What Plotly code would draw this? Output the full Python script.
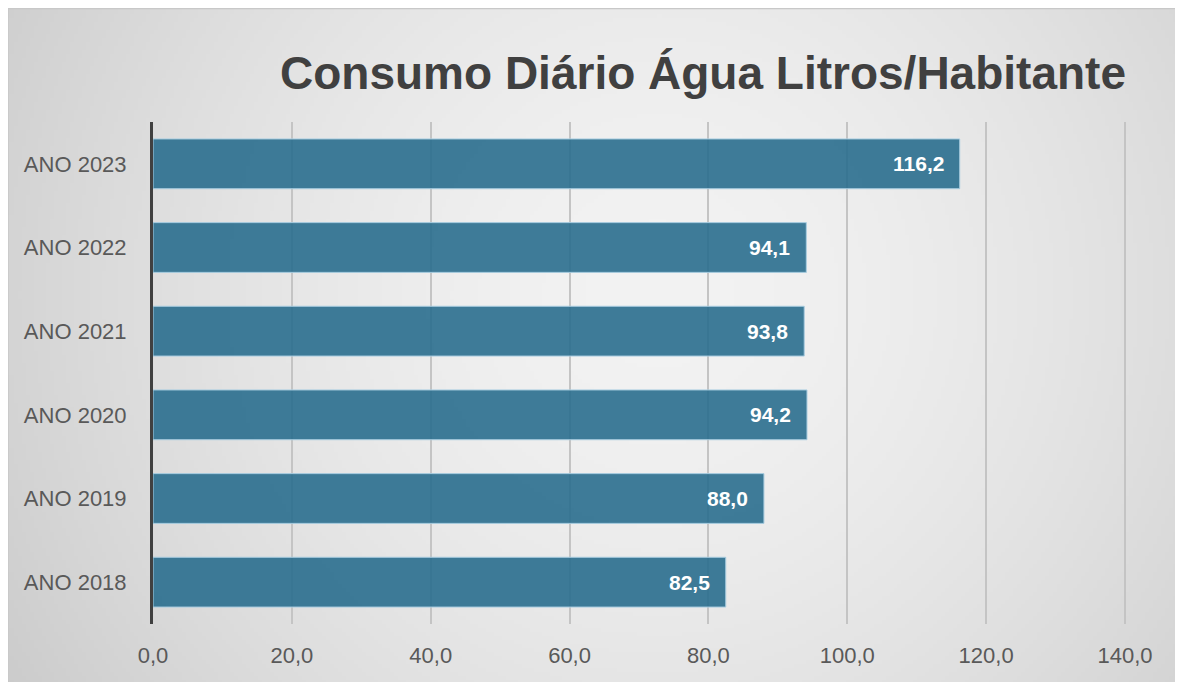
import zlib, struct, base64, math
import plotly.graph_objects as go

# ---- data ----
categories = ["ANO 2018", "ANO 2019", "ANO 2020", "ANO 2021", "ANO 2022", "ANO 2023"]
values = [82.5, 88.0, 94.2, 93.8, 94.1, 116.2]
x_ticks = [0, 20, 40, 60, 80, 100, 120, 140]
title_text = "Consumo Diário Água Litros/Habitante"

# ---- geometry ----
W, H = 1183, 682
L, R, T, B = 145, 65, 114, 66

pw, ph = W - L - R, H - T - B


def px_to_paper_x(px):
    return (px - L) / pw


def px_to_paper_y(py):
    return (H - B - py) / ph


# ---- radial gradient background as PNG ----
def make_png(w, h, fn):
    rows = []
    for y in range(h):
        row = bytearray(b"\x00")
        for x in range(w):
            row.extend(fn(x, y))
        rows.append(bytes(row))
    raw = b"".join(rows)

    def chunk(t, d):
        c = struct.pack(">I", len(d)) + t + d
        return c + struct.pack(">I", zlib.crc32(t + d) & 0xFFFFFFFF)

    png = (b"\x89PNG\r\n\x1a\n"
           + chunk(b"IHDR", struct.pack(">IIBBBBB", w, h, 8, 2, 0, 0, 0))
           + chunk(b"IDAT", zlib.compress(raw, 9))
           + chunk(b"IEND", b""))
    return "data:image/png;base64," + base64.b64encode(png).decode()


gw, gh = 296, 170


def grad(x, y):
    fx = (x + 0.5) / gw
    fy = (y + 0.5) / gh
    dx = (fx - 0.55) * W
    dy = (fy - 0.42) * H
    d = math.sqrt(dx * dx + dy * dy) / 680.0
    v = 243 - 33 * (d ** 1.6)
    v = int(max(200, min(245, v)))
    return (v, v, v)


bg_src = make_png(gw, gh, grad)

fig = go.Figure()
fig.add_trace(go.Bar(
    x=values, y=categories, orientation="h",
    marker=dict(color="rgba(42,110,142,0.9)", line=dict(color="#a9cde0", width=1)),
    hoverinfo="x+y",
))

for c, v in zip(categories, values):
    fig.add_annotation(
        x=v, y=c, xref="x", yref="y", text=f"{v:.1f}".replace(".", ","),
        showarrow=False, xanchor="right", xshift=-14,
        font=dict(family="Liberation Sans, Arial, sans-serif", size=21, color="white", weight="bold"),
    )

fig.add_layout_image(dict(
    source=bg_src, xref="paper", yref="paper",
    x=px_to_paper_x(0), y=px_to_paper_y(0),
    sizex=px_to_paper_x(W) - px_to_paper_x(0),
    sizey=px_to_paper_y(0) - px_to_paper_y(H),
    xanchor="left", yanchor="top", sizing="stretch", layer="below",
))

fig.add_shape(type="rect", xref="paper", yref="paper",
              x0=px_to_paper_x(0), x1=px_to_paper_x(W + 3),
              y0=px_to_paper_y(H + 3), y1=px_to_paper_y(0.5),
              line=dict(color="#c8c8c8", width=1.5), fillcolor="rgba(0,0,0,0)", layer="below")

fig.update_layout(
    width=W, height=H,
    margin=dict(l=L, r=R, t=T, b=B, pad=0),
    paper_bgcolor="#e6e6e6", plot_bgcolor="rgba(0,0,0,0)",
    separators=",.",
    bargap=0.405,
    showlegend=False,
    font=dict(family="Liberation Sans, Arial, sans-serif", color="#595959", size=22),
    title=dict(
        text=title_text, xref="container", yref="container",
        x=695 / W, xanchor="center", y=1 - 65 / H, yanchor="middle",
        font=dict(family="Liberation Sans, Arial, sans-serif", size=46, color="#404040", weight="bold"),
    ),
    xaxis=dict(
        range=[0, 140.15], tickvals=x_ticks, tickformat=".1f",
        showgrid=True, gridcolor="#c4c4c4", gridwidth=1.5,
        zeroline=False, showline=False, ticks="",
        ticklabelstandoff=16,
        tickfont=dict(size=22, color="#595959"),
    ),
    yaxis=dict(
        type="category", categoryorder="array", categoryarray=categories,
        showgrid=False, zeroline=False,
        showline=True, linecolor="#404040", linewidth=3,
        ticks="", ticklabelstandoff=19,
        tickfont=dict(size=22, color="#595959"),
    ),
)

fig.write_html("out.html")
